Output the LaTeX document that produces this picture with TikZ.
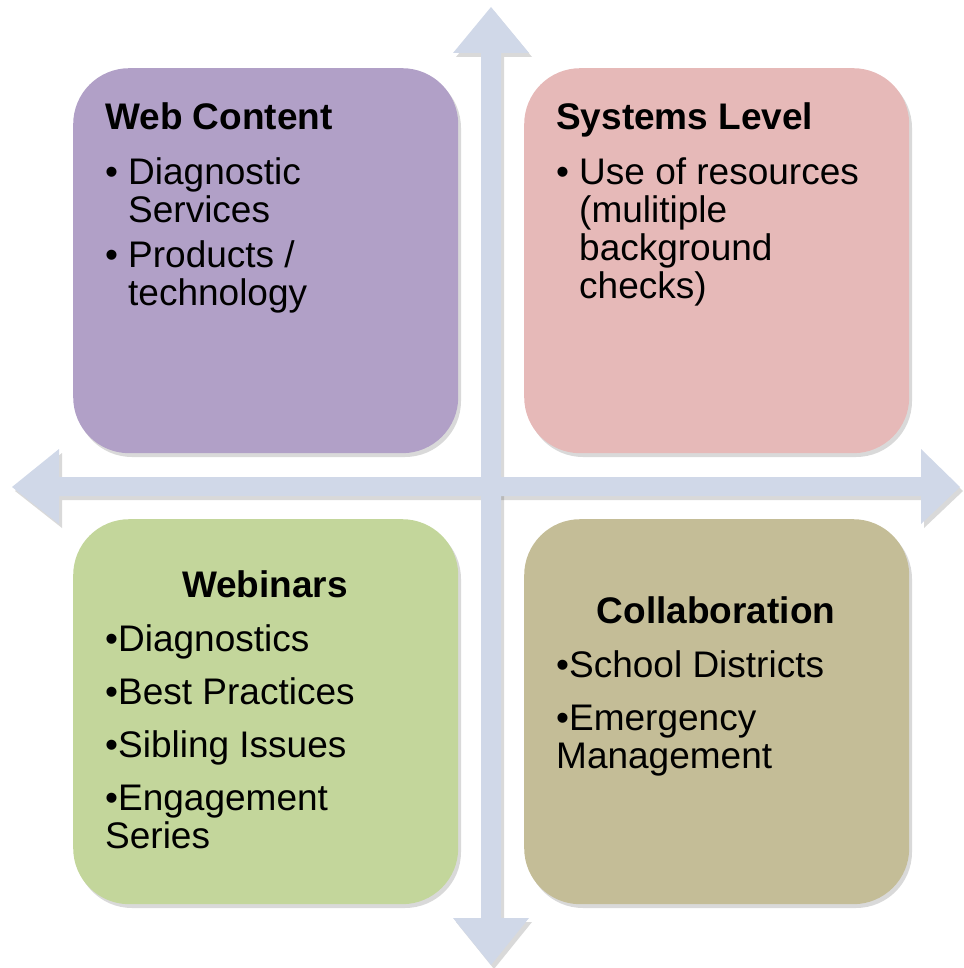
\documentclass[tikz,border=0pt]{standalone}
\usepackage{fontspec}
\setmainfont{Liberation Sans}
\usetikzlibrary{positioning}
\definecolor{arrowblue}{HTML}{D0D8E8}
\definecolor{webpurple}{HTML}{B1A0C7}
\definecolor{syspink}{HTML}{E6B9B8}
\definecolor{webgreen}{HTML}{C3D69B}
\definecolor{collabkhaki}{HTML}{C4BD97}
\tikzset{
  quadbox/.style={rounded corners=56pt, minimum width=385pt, minimum height=385pt, inner sep=0pt, anchor=north west},
  quadshadow/.style={fill=black, opacity=0.15},
  headtext/.style={font=\fontsize{37}{38}\selectfont\bfseries, inner sep=0pt},
  itemtext/.style={font=\fontsize{37}{38}\selectfont, inner sep=0pt, align=left}
}
\newcommand\bul{\makebox[23pt][l]{\textbullet}}
\newcommand\hang{\hspace*{23pt}}

\begin{document}
\begin{tikzpicture}[x=1pt, y=-1pt]

  \useasboundingbox (0,0) rectangle (963,968);

  % shadows of the cross
  \fill[quadshadow] (484,57) -- (456,57) -- (494,11) -- (532,57) -- (504,57) -- (504,922)
    -- (532,922) -- (494,969) -- (456,922) -- (484,922) -- cycle;
  \fill[quadshadow] (62,481) -- (62,453) -- (15,491) -- (62,528) -- (62,500) -- (924,500)
    -- (924,528) -- (963,491) -- (924,453) -- (924,481) -- cycle;

  % the cross
  \fill[arrowblue] (59,477) -- (59,449) -- (12,487) -- (59,524) -- (59,496) -- (921,496)
    -- (921,524) -- (960,487) -- (921,449) -- (921,477) -- cycle;
  \fill[arrowblue] (481,53) -- (453,53) -- (491,7) -- (529,53) -- (501,53) -- (501,918)
    -- (529,918) -- (491,965) -- (453,918) -- (481,918) -- cycle;

  % box shadows
  \foreach \bx/\by in {73/68, 524/68, 73/519, 524/519}
    \fill[quadshadow, rounded corners=56pt] (\bx+3,\by+4) rectangle ++(385,385);

  % quadrants
  \node[quadbox, fill=webpurple]   (web)     at (73,68)   {};
  \node[quadbox, fill=syspink]     (sys)     at (524,68)  {};
  \node[quadbox, fill=webgreen]    (webinar) at (73,519)  {};
  \node[quadbox, fill=collabkhaki] (collab)  at (524,519) {};

  % Web Content (items anchored at the baseline of their last line)
  \node[headtext, anchor=base west] (webtitle) at (105,130) {Web Content};
  \node[itemtext, anchor=base west] (webitems) at (105,305)
    {\bul Diagnostic\\ \hang Services\\[7pt]
     \bul Products /\\ \hang technology};

  % Systems Level
  \node[headtext, anchor=base west] (systitle) at (556,130) {Systems Level};
  \node[itemtext, anchor=base west] (sysitems) at (556,298)
    {\bul Use of resources\\ \hang (mulitiple\\ \hang background\\ \hang checks)};

  % Webinars
  \node[headtext, anchor=base] (webinartitle) at (265,597) {Webinars};
  \node[itemtext, anchor=base west] (webinaritems) at (105,848)
    {\textbullet Diagnostics\\[15pt]
     \textbullet Best Practices\\[15pt]
     \textbullet Sibling Issues\\[15pt]
     \textbullet Engagement\\ Series};

  % Collaboration
  \node[headtext, anchor=base] (collabtitle) at (716,623) {Collaboration};
  \node[itemtext, anchor=base west] (collabitems) at (556,768)
    {\textbullet School Districts\\[15pt]
     \textbullet Emergency\\ Management};

\end{tikzpicture}
\end{document}
